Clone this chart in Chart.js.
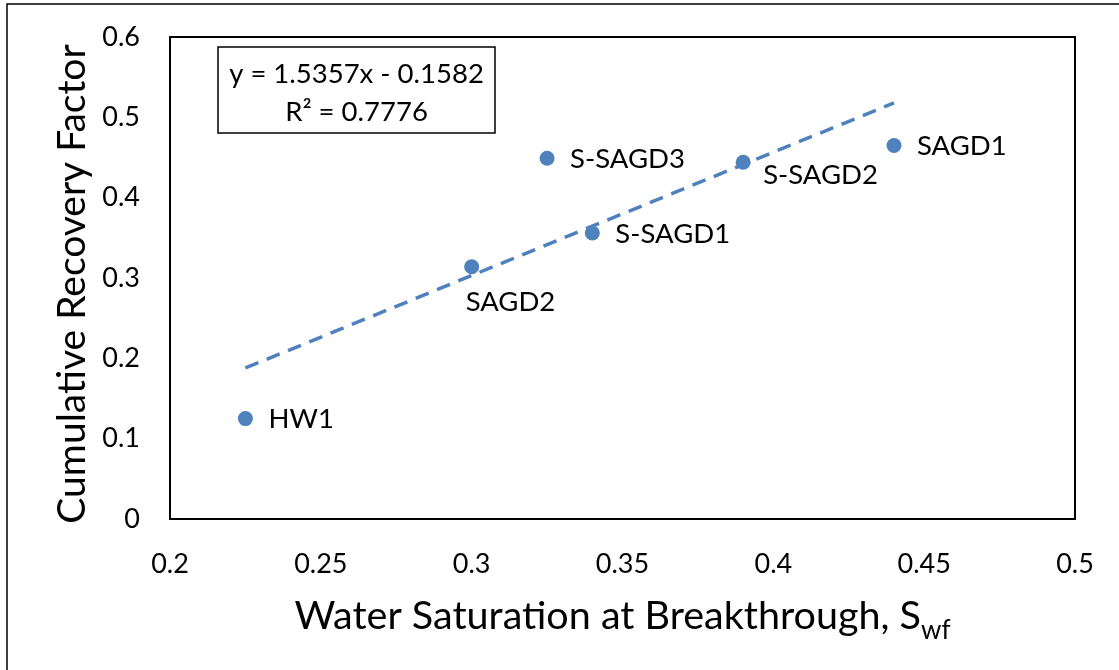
<!DOCTYPE html>
<html>
<head>
<meta charset="utf-8">
<script src="https://cdn.jsdelivr.net/npm/chart.js@4.4.1/dist/chart.umd.min.js"></script>
<style>
  html, body { margin: 0; padding: 0; background: #fff; }
</style>
</head>
<body>
<canvas id="myChart" width="1119" height="670"></canvas>
<script>
// data
const wellNames = ["HW1", "SAGD2", "S-SAGD3", "S-SAGD1", "S-SAGD2", "SAGD1"];
const waterSat = [0.225, 0.3, 0.325, 0.34, 0.39, 0.44];
const recoveryFactor = [0.125, 0.314, 0.449, 0.356, 0.444, 0.465];

// linear trendline end points (as drawn)
const trendX = [0.225, 0.44];
const trendY = [0.188, 0.518];
const trendText = ["y = 1.5357x - 0.1582", "R² = 0.7776"];

const xTickValues = [0.2, 0.25, 0.3, 0.35, 0.4, 0.45, 0.5];
const yTickValues = [0, 0.1, 0.2, 0.3, 0.4, 0.5, 0.6];

const BLUE = "#4F81BD";
const FONT = "Lato, 'Open Sans', sans-serif";

// where each data label sits relative to its point: [dx, dy]
const labelOffsets = {
  "HW1": [23, 1],
  "SAGD2": [-6, 35],
  "S-SAGD3": [23, 1],
  "S-SAGD1": [23, 1],
  "S-SAGD2": [20, 13],
  "SAGD1": [23, 1],
};

const decorPlugin = {
  id: "decor",
  beforeDraw(chart) {
    const c = chart.ctx;
    c.save();
    c.strokeStyle = "#000";
    c.lineWidth = 1.5;
    c.beginPath();
    c.moveTo(7, 700);
    c.lineTo(7, 4);
    c.lineTo(1130, 4);
    c.stroke();
    c.restore();
  },
  afterDraw(chart) {
    const c = chart.ctx;
    const area = chart.chartArea;
    const xs = chart.scales.x;
    const ys = chart.scales.y;
    c.save();

    // plot frame
    c.strokeStyle = "#000";
    c.lineWidth = 2;
    c.strokeRect(area.left, area.top, area.right - area.left, area.bottom - area.top);

    // point labels
    c.fillStyle = "#000";
    c.font = "27.5px " + FONT;
    c.textAlign = "left";
    c.textBaseline = "middle";
    wellNames.forEach((name, i) => {
      const px = xs.getPixelForValue(waterSat[i]);
      const py = ys.getPixelForValue(recoveryFactor[i]);
      const off = labelOffsets[name];
      c.fillText(name, px + off[0], py + off[1]);
    });

    // trendline equation box
    const bx = area.left + 48, by = area.top + 10, bw = 277, bh = 86;
    c.lineWidth = 1.5;
    c.strokeRect(bx, by, bw, bh);
    c.textAlign = "center";
    c.fillText(trendText[0], bx + bw / 2, by + 27);
    c.fillText(trendText[1], bx + bw / 2, by + 65);

    // x axis title with subscript
    const main = "Water Saturation at Breakthrough, S";
    const sub = "wf";
    c.font = "39.5px " + FONT;
    const wMain = c.measureText(main).width;
    c.font = "26px " + FONT;
    const wSub = c.measureText(sub).width;
    const startX = (area.left + area.right) / 2 - (wMain + wSub) / 2;
    c.textAlign = "left";
    c.textBaseline = "alphabetic";
    c.font = "39.5px " + FONT;
    c.fillText(main, startX, 629);
    c.font = "26px " + FONT;
    c.fillText(sub, startX + wMain, 639);

    // y axis title
    c.font = "39px " + FONT;
    c.textAlign = "center";
    c.textBaseline = "middle";
    c.translate(72, 284);
    c.rotate(-Math.PI / 2);
    c.fillText("Cumulative Recovery Factor", 0, 0);

    c.restore();
  },
};

const ctx = document.getElementById("myChart");

new Chart(ctx, {
  type: "scatter",
  data: {
    datasets: [
      {
        label: "Trendline",
        type: "line",
        data: trendX.map((x, i) => ({ x: x, y: trendY[i] })),
        borderColor: BLUE,
        borderWidth: 3.5,
        borderDash: [14, 9],
        pointRadius: 0,
        fill: false,
        order: 0,
      },
      {
        label: "Recovery",
        data: waterSat.map((x, i) => ({ x: x, y: recoveryFactor[i] })),
        backgroundColor: BLUE,
        borderColor: BLUE,
        pointRadius: 7.5,
        pointBorderWidth: 0,
        order: 1,
      },
    ],
  },
  options: {
    responsive: false,
    animation: false,
    layout: { padding: { top: 37, right: 44, left: 0, bottom: 0 } },
    plugins: {
      legend: { display: false },
      tooltip: { enabled: false },
    },
    scales: {
      x: {
        type: "linear",
        min: 0.2,
        max: 0.5,
        afterFit: (scale) => {
          scale.height = 151;
          scale.paddingLeft = 0;
          scale.paddingRight = 0;
        },
        afterBuildTicks: (scale) => { scale.ticks = xTickValues.map((v) => ({ value: v })); },
        grid: { display: false, drawTicks: false },
        border: { display: false },
        ticks: {
          padding: 29,
          color: "#000",
          font: { family: FONT, size: 27 },
          callback: (v) => String(+v.toFixed(2)),
        },
      },
      y: {
        type: "linear",
        min: 0,
        max: 0.6,
        afterFit: (scale) => {
          scale.width = 170;
          scale.paddingTop = 0;
          scale.paddingBottom = 0;
        },
        afterBuildTicks: (scale) => { scale.ticks = yTickValues.map((v) => ({ value: v })); },
        grid: { display: false, drawTicks: false },
        border: { display: false },
        ticks: {
          padding: 30,
          color: "#000",
          font: { family: FONT, size: 27 },
          callback: (v) => String(+v.toFixed(2)),
        },
      },
    },
  },
  plugins: [decorPlugin],
});
</script>
</body>
</html>
